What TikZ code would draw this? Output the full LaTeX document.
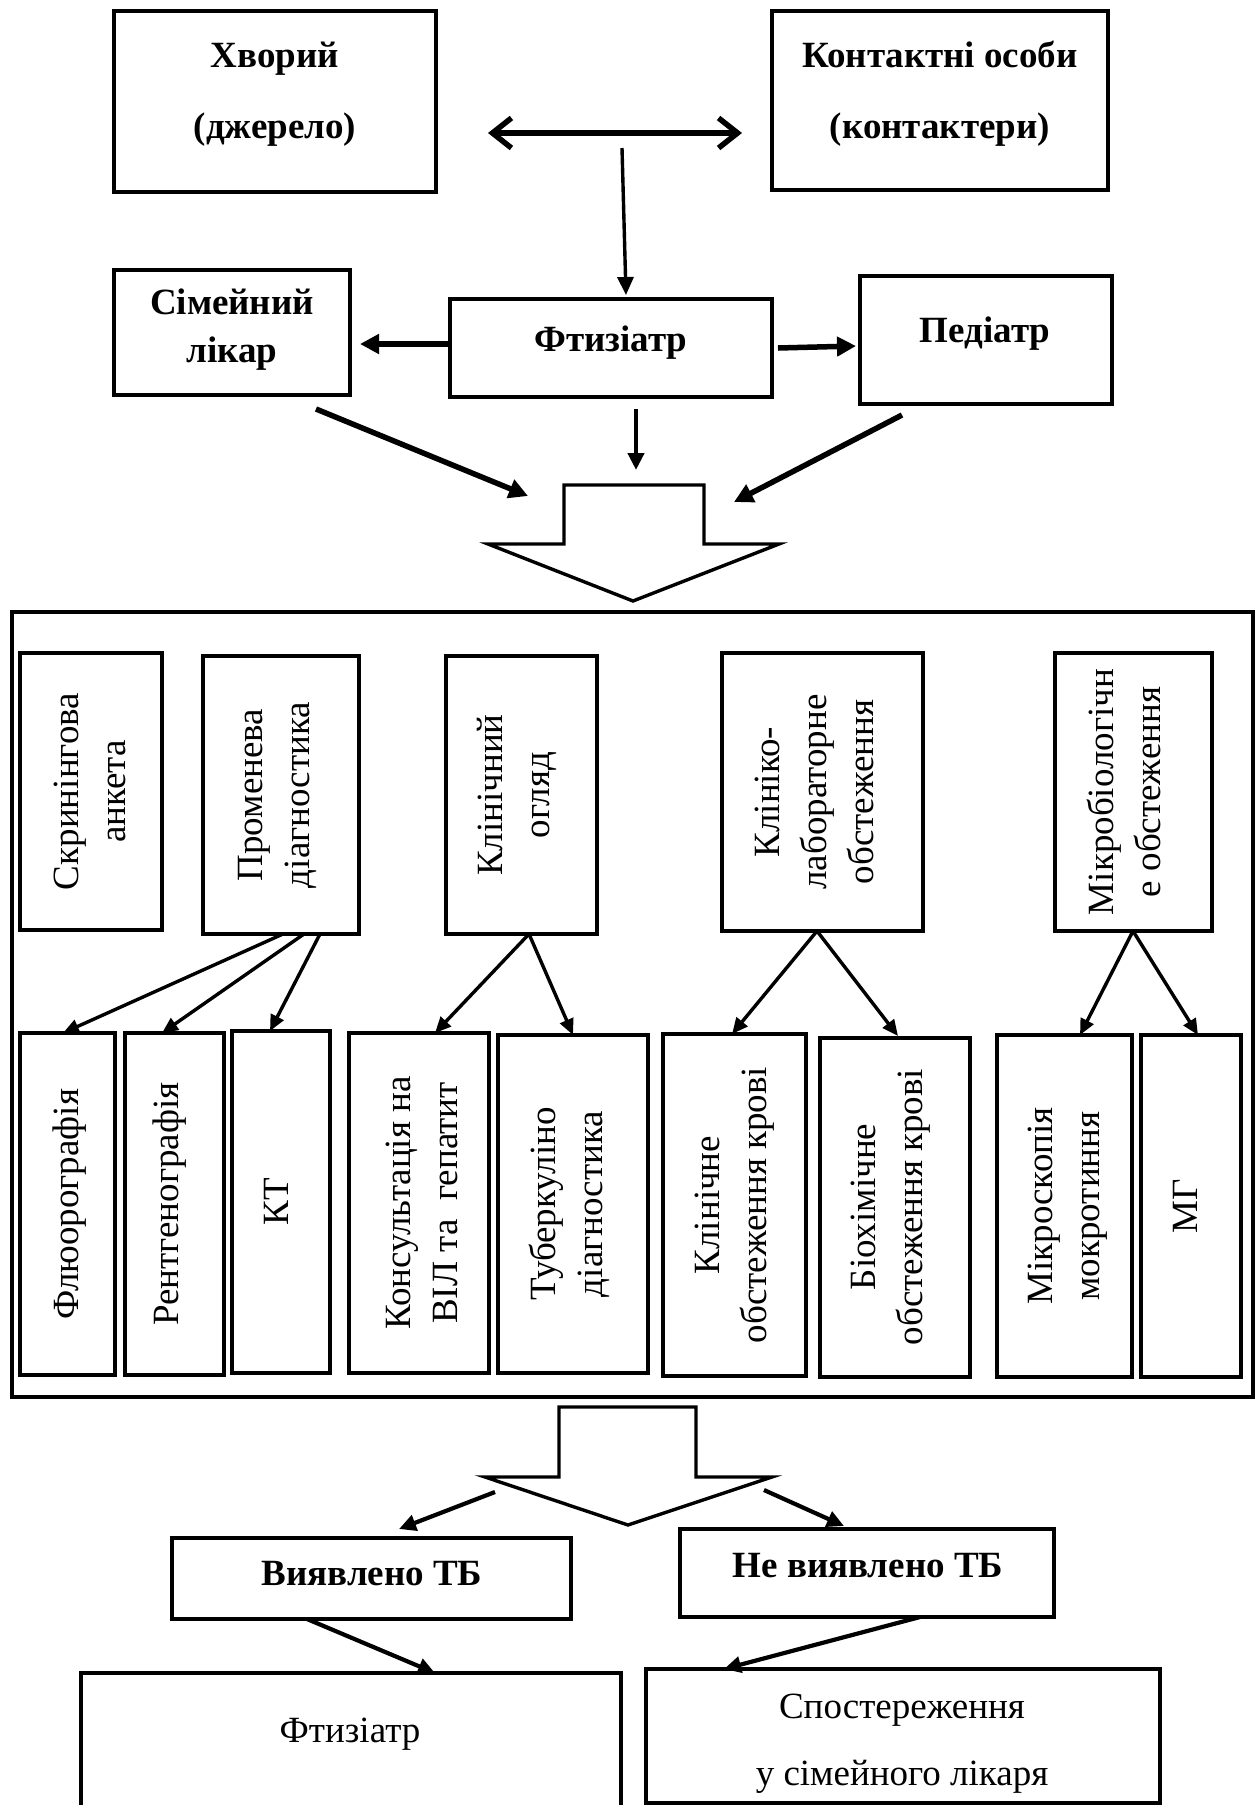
\documentclass[tikz,border=0pt]{standalone}
\usepackage{fontspec}
\setmainfont{Liberation Serif}
\usetikzlibrary{arrows.meta}
\newcommand\mkbox[6][]{%
  \node[bx,#1,minimum width={#5-#3},minimum height={#6-#4}] (#2) at ({(#3+#5)/2},{(#4+#6)/2}) {};}
\begin{document}
\begin{tikzpicture}[x=1pt,y=-1pt,
  bx/.style={draw,line width=3.4pt,inner sep=0pt,outer sep=0pt},
  boldtxt/.style={inner sep=0pt,align=center,font=\fontsize{37}{48}\selectfont\bfseries},
  regtxt/.style={inner sep=0pt,align=center,font=\fontsize{37}{48}\selectfont},
  vtxt/.style={rotate=90,inner sep=0pt,align=center,font=\fontsize{37}{47}\selectfont},
  blockarr/.style={draw,line width=3.4pt,line join=miter},
  thickarr/.style={line width=5.5pt,-{Triangle[length=19pt,width=19pt]}},
  midarr/.style={line width=4.2pt,-{Triangle[length=17pt,width=16pt]}},
  thinarr/.style={line width=3.4pt,-{Triangle[length=16pt,width=14pt]}},
]
\clip (0,0) rectangle (1255,1805);
\fill[white] (0,0) rectangle (1255,1805);

% ---------- top part ----------
\mkbox{hvor}{114}{11}{436}{192}
\mkbox{kont}{772}{11}{1108}{190}
\mkbox{simej}{114}{270}{350}{395}
\mkbox{ftiz}{450}{299}{772}{397}
\mkbox{ped}{860}{276}{1112}{404}

\node[boldtxt,font=\fontsize{37}{71}\selectfont\bfseries] (thvor) at (275,94) {Хворий\\(джерело)};
\node[boldtxt,font=\fontsize{37}{71}\selectfont\bfseries] (tkont) at (940,94) {Контактні особи\\(контактери)};
\node[boldtxt] (tsimej) at (232,330) {Сімейний\\лікар};
\node[boldtxt,anchor=base] (tftiz) at (611,351) {Фтизіатр};
\node[boldtxt,anchor=base] (tped) at (985,342) {Педіатр};

\coordinate (dA) at (488,133);
\coordinate (dB) at (742,133);
\draw[line width=5.5pt,{Straight Barb[length=19pt,width=30pt]}-{Straight Barb[length=19pt,width=30pt]}] (dA) -- (dB);

\coordinate (v1) at (622,148);
\draw[line width=3.4pt,-{Triangle[length=18pt,width=16pt]}] (v1) -- ([xshift=15pt,yshift=4pt]ftiz.north);

\draw[thickarr] ([yshift=4pt]ftiz.west) -- ([xshift=10pt,yshift=-11.5pt]simej.east);
\draw[thickarr] ([xshift=6pt]ftiz.east) -- ([xshift=-4pt,yshift=-6pt]ped.west);

\coordinate (t1) at (528,496);
\coordinate (t2) at (636,470);
\coordinate (t3) at (734,502);
\draw[thickarr] ([xshift=84pt,yshift=-14pt]simej.south) -- (t1);
\draw[midarr] ([xshift=25pt,yshift=-12pt]ftiz.south) -- (t2);
\draw[thickarr] ([xshift=-84pt,yshift=-11pt]ped.south) -- (t3);

\draw[blockarr] (564,485) -- (704,485) -- (704,544) -- (779,544) -- (633,601) -- (488,544) -- (564,544) -- cycle;

% ---------- big box ----------
\mkbox[line width=4pt]{big}{12}{612}{1253}{1397}

\mkbox{skr}{20}{653}{162}{930}
\mkbox{prom}{203}{656}{359}{934}
\mkbox{klog}{446}{656}{597}{934}
\mkbox{kllab}{722}{653}{923}{931}
\mkbox{mikro}{1055}{653}{1212}{931}

\node[vtxt] (tskr) at (89.5,791.5) {Скринінгова\\анкета};
\node[vtxt] (tprom) at (277.5,795) {Променева\\діагностика};
\node[vtxt] (tklog) at (516.5,795) {Клінічний\\огляд};
\node[vtxt] (tkllab) at (814,792) {Клініко-\\лабораторне\\обстеження};
\node[vtxt] (tmikro) at (1123.5,792) {Мікробіологічн\\е обстеження};

\mkbox{flu}{20}{1033}{115}{1375}
\mkbox{rent}{125}{1033}{224}{1375}
\mkbox{kt}{232}{1031}{330}{1373}
\mkbox{kons}{349}{1033}{489}{1373}
\mkbox{tub}{498}{1035}{648}{1373}
\mkbox{klkr}{663}{1034}{806}{1376}
\mkbox{bio}{820}{1038}{970}{1377}
\mkbox{mikr}{997}{1035}{1132}{1377}
\mkbox{mg}{1141}{1035}{1241}{1377}

\node[vtxt] (tflu) at (69.5,1204) {Флюорографія};
\node[vtxt] (trent) at (170,1204) {Рентгенографія};
\node[vtxt] (tkt) at (276,1202) {КТ};
\node[vtxt] (tkons) at (421.5,1203) {Консультація на\\ВІЛ та\ \ гепатит};
\node[vtxt] (ttub) at (569.5,1204) {Туберкуліно\\діагностика};
\node[vtxt] (tklkr) at (735,1205) {Клінічне\\обстеження крові};
\node[vtxt] (tbio) at (891,1207) {Біохімічне\\обстеження крові};
\node[vtxt] (tmikr) at (1068,1206) {Мікроскопія\\мокротиння};
\node[vtxt] (tmg) at (1185,1206) {МГ};

\draw[thinarr] ([xshift=2pt]prom.south) -- ([xshift=-4.5pt]flu.north);
\draw[thinarr] ([xshift=23pt]prom.south) -- ([xshift=-12.5pt]rent.north);
\draw[thinarr] ([xshift=39pt]prom.south) -- ([xshift=-11pt]kt.north);
\draw[thinarr] ([xshift=7.5pt]klog.south) -- ([xshift=16pt]kons.north);
\draw[thinarr] ([xshift=7.5pt]klog.south) -- (tub.north);
\draw[thinarr] ([xshift=-5.5pt]kllab.south) -- ([xshift=-2.5pt]klkr.north);
\draw[thinarr] ([xshift=-5.5pt]kllab.south) -- ([xshift=3pt,yshift=2pt]bio.north);
\draw[thinarr] ([xshift=-0.5pt]mikro.south) -- ([xshift=15.5pt]mikr.north);
\draw[thinarr] ([xshift=-0.5pt]mikro.south) -- ([xshift=7pt]mg.north);

% ---------- bottom part ----------
\draw[blockarr] (559,1407) -- (696,1407) -- (696,1477) -- (772,1477) -- (628,1525) -- (485,1477) -- (559,1477) -- cycle;

\mkbox{vyav}{172}{1538}{571}{1619}
\mkbox{nevyav}{680}{1529}{1054}{1617}
\mkbox{ftiz2}{81}{1673}{621}{1830}
\mkbox{spost}{646}{1669}{1160}{1803}

\node[boldtxt,anchor=base] (tvyav) at (372,1585) {Виявлено ТБ};
\node[boldtxt,anchor=base] (tnevyav) at (868,1577) {Не виявлено ТБ};
\node[regtxt,anchor=base] (tftiz2) at (350,1742) {Фтизіатр};
\node[regtxt,font=\fontsize{37}{67}\selectfont] (tspost) at (902,1743.5) {Спостереження\\у сімейного лікаря};

\coordinate (s1) at (495,1492);
\coordinate (s2) at (764,1490);
\draw[midarr] (s1) -- ([xshift=27.5pt,yshift=9pt]vyav.north);
\draw[midarr] (s2) -- ([xshift=-23pt,yshift=3pt]nevyav.north);
\draw[midarr] ([xshift=-64.5pt]vyav.south) -- ([xshift=84pt]ftiz2.north);
\draw[midarr] ([xshift=53pt]nevyav.south) -- ([xshift=-179pt]spost.north);
\end{tikzpicture}
\end{document}
